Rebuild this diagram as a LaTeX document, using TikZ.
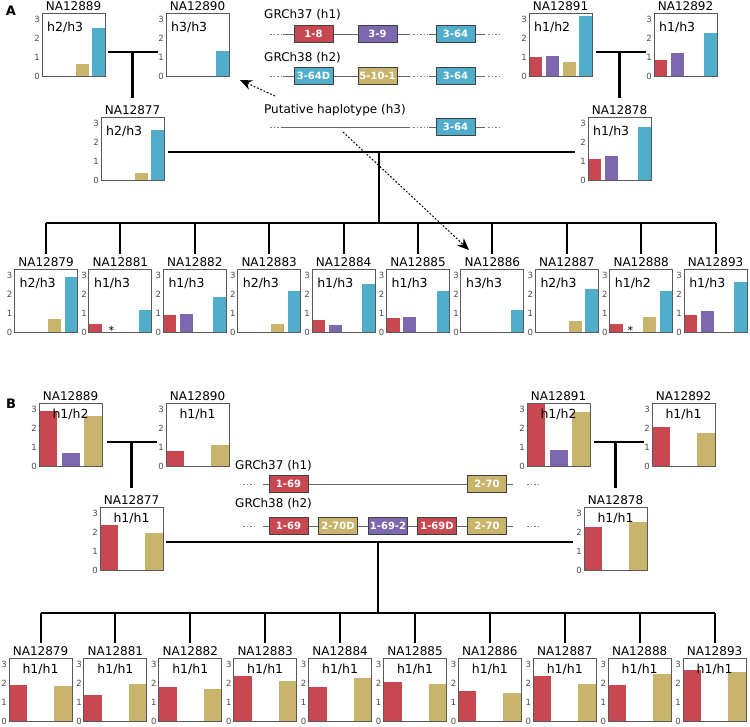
\documentclass[tikz,border=0pt]{standalone}
\usepackage{fontspec}
\setmainfont{DejaVu Sans}
\usetikzlibrary{arrows.meta,calc}
\definecolor{cred}{RGB}{200,72,82}
\definecolor{cpur}{RGB}{124,104,174}
\definecolor{ctan}{RGB}{201,180,108}
\definecolor{cblu}{RGB}{80,174,204}
\tikzset{
 frame/.style={draw=black!65, line width=0.9pt, minimum width=63pt, minimum height=63pt, inner sep=0pt},
 samp/.style={font=\fontsize{12}{14}\selectfont, inner sep=0pt, anchor=base},
 geno/.style={font=\fontsize{12.5}{14}\selectfont, inner sep=0pt},
 tickl/.style={font=\fontsize{8.5}{9}\selectfont, text=black!70, inner sep=0pt, anchor=east},
 gbox/.style={draw=black!75, line width=0.7pt, minimum width=39pt, minimum height=17pt, inner sep=0pt, text=white, font=\bfseries\fontsize{10}{10}\selectfont},
 glab/.style={font=\fontsize{12}{14}\selectfont, inner sep=0pt, anchor=west},
 gline/.style={draw=black!60, line width=0.7pt},
 gdot/.style={draw=black!50, line width=0.7pt, dash pattern=on 1.5pt off 2pt},
 fam/.style={draw=black, line width=2.3pt},
 hint/.style={draw=black, line width=1pt, dash pattern=on 1.8pt off 1.8pt, -{Stealth[length=12pt,width=10pt,inset=4pt]}},
 astk/.style={font=\fontsize{11}{12}\selectfont, inner sep=0pt, anchor=base},
 panel/.style={font=\bfseries\fontsize{13}{14}\selectfont, inner sep=0pt},
}
\newcommand\chA[9]{%
\begin{scope}[shift={(#2,#3)}]
\ifdim #6pt>0pt \fill[cred] (0,63) rectangle (13,63-#6*18.7);\fi
\ifdim #7pt>0pt \fill[cpur] (16.5,63) rectangle (29.5,63-#7*18.7);\fi
\ifdim #8pt>0pt \fill[ctan] (33.5,63) rectangle (46.5,63-#8*18.7);\fi
\ifdim #9pt>0pt \fill[cblu] (50,63) rectangle (63,63-#9*18.7);\fi
\node[frame] (#1) at (31.5,31.5) {};
\node[samp] (#1-s) at (31.5,-2.5) {#4};
\node[geno, anchor=west] (#1-g) at (5,14) {#5};
\foreach \k in {0,1,2,3} {\node[tickl] (#1-t\k) at (-2,63-\k*18.7) {\k};}
\end{scope}}
\newcommand\chB[8]{%
\begin{scope}[shift={(#2,#3)}]
\ifdim #6pt>0pt \fill[cred] (0,63) rectangle (18,63-#6*18.7);\fi
\ifdim #7pt>0pt \fill[cpur] (22.5,63) rectangle (40.5,63-#7*18.7);\fi
\ifdim #8pt>0pt \fill[ctan] (45,63) rectangle (63,63-#8*18.7);\fi
\node[frame] (#1) at (31.5,31.5) {};
\node[samp] (#1-s) at (31.5,-2.5) {#4};
\node[geno] (#1-g) at (31.5,11) {#5};
\foreach \k in {0,1,2,3} {\node[tickl] (#1-t\k) at (-2,63-\k*18.7) {\k};}
\end{scope}}
\begin{document}
\begin{tikzpicture}[x=1pt,y=-1pt]
\useasboundingbox (0,0) rectangle (750,727);
\fill[white] (0,0) rectangle (750,727);
\node[panel] (pA) at (11,11) {A};
\node[panel] (pB) at (11,404) {B};
% ================= Panel A =================
\chA{a89}{42}{13}{NA12889}{h2/h3}{0}{0}{0.63}{2.58}
\chA{a90}{166}{13}{NA12890}{h3/h3}{0}{0}{0}{1.36}
\chA{a91}{529}{13}{NA12891}{h1/h2}{1.03}{1.08}{0.76}{3.19}
\chA{a92}{654}{13}{NA12892}{h1/h3}{0.86}{1.24}{0}{2.32}
\chA{a77}{101}{117}{NA12877}{h2/h3}{0}{0}{0.38}{2.65}
\chA{a78}{588}{117}{NA12878}{h1/h3}{1.14}{1.3}{0}{2.86}
\chA{a79}{14.5}{269}{NA12879}{h2/h3}{0}{0}{0.68}{2.95}
\chA{a81}{88.9}{269}{NA12881}{h1/h3}{0.42}{0}{0}{1.2}
\chA{a82}{163.3}{269}{NA12882}{h1/h3}{0.9}{0.95}{0}{1.85}
\chA{a83}{237.7}{269}{NA12883}{h2/h3}{0}{0}{0.42}{2.2}
\chA{a84}{312.1}{269}{NA12884}{h1/h3}{0.65}{0.4}{0}{2.55}
\chA{a85}{386.5}{269}{NA12885}{h1/h3}{0.75}{0.78}{0}{2.2}
\chA{a86}{460.9}{269}{NA12886}{h3/h3}{0}{0}{0}{1.2}
\chA{a87}{535.3}{269}{NA12887}{h2/h3}{0}{0}{0.6}{2.3}
\chA{a88}{609.7}{269}{NA12888}{h1/h2}{0.45}{0}{0.8}{2.2}
\chA{a93}{684.1}{269}{NA12893}{h1/h3}{0.9}{1.1}{0}{2.7}
\node[astk] (a81-ast) at ($(a81.south west)+(23,2)$) {*};
\node[astk] (a88-ast) at ($(a88.south west)+(21,2)$) {*};
% family lines A
\coordinate (tA1l) at (108,52); \coordinate (tA1r) at (158,52); \coordinate (tA1m) at (132.5,52);
\draw[fam] (tA1l) -- (tA1r);
\draw[fam] (tA1m) -- ([yshift=7pt]tA1m |- a77-s.north);
\coordinate (tA2l) at (596,52); \coordinate (tA2r) at (646,52); \coordinate (tA2m) at (619.5,52);
\draw[fam] (tA2l) -- (tA2r);
\draw[fam] (tA2m) -- ([yshift=7pt]tA2m |- a78-s.north);
\coordinate (pAl) at (168,152); \coordinate (pAr) at (575,152); \coordinate (pAm) at (379,152);
\coordinate (busA) at (379,223);
\draw[fam, line width=1.8pt] (pAl) -- (pAr);
\draw[fam, line width=1.8pt] (pAm) -- (busA);
\draw[fam, line width=2pt] (a79.north |- busA) -- (a93.north |- busA);
\foreach \n in {79,81,82,83,84,85,86,87,88,93} {\draw[fam, line width=2pt] (a\n.north |- busA) -- ([yshift=15pt]a\n.north);}
% gene diagram A
\node[glab] (gA1) at (264,15) {GRCh37 (h1)};
\node[glab] (gA2) at (264,58) {GRCh38 (h2)};
\node[glab] (gA3) at (264,110) {Putative haplotype (h3)};
\coordinate (r1d1) at (270,34); \coordinate (r1s1) at (283,34); \coordinate (r1s2) at (410,34);
\coordinate (r1d2) at (413,34); \coordinate (r1d3) at (428,34); \coordinate (r1s3) at (429,34);
\coordinate (r1s4) at (485,34); \coordinate (r1d4) at (488,34); \coordinate (r1d5) at (499,34);
\draw[gdot] (r1d1) -- (r1s1); \draw[gline] (r1s1) -- (r1s2); \draw[gdot] (r1d2) -- (r1d3);
\draw[gline] (r1s3) -- (r1s4); \draw[gdot] (r1d4) -- (r1d5);
\node[gbox, fill=cred] (a1-18) at (313.5,34) {1-8};
\node[gbox, fill=cpur] (a1-39) at (377.5,34) {3-9};
\node[gbox, fill=cblu] (a1-364) at (455.5,34) {3-64};
\coordinate (r2d1) at (270,76); \coordinate (r2s1) at (283,76); \coordinate (r2s2) at (410,76);
\coordinate (r2d2) at (413,76); \coordinate (r2d3) at (428,76); \coordinate (r2s3) at (429,76);
\coordinate (r2s4) at (485,76); \coordinate (r2d4) at (488,76); \coordinate (r2d5) at (499,76);
\draw[gdot] (r2d1) -- (r2s1); \draw[gline] (r2s1) -- (r2s2); \draw[gdot] (r2d2) -- (r2d3);
\draw[gline] (r2s3) -- (r2s4); \draw[gdot] (r2d4) -- (r2d5);
\node[gbox, fill=cblu] (a2-364d) at (313.5,76) {3-64D};
\node[gbox, fill=ctan] (a2-5101) at (377.5,76) {5-10-1};
\node[gbox, fill=cblu] (a2-364) at (455.5,76) {3-64};
\coordinate (r3d1) at (270,127); \coordinate (r3s1) at (281,127); \coordinate (r3s2) at (410,127);
\coordinate (r3d2) at (413,127); \coordinate (r3d3) at (428,127); \coordinate (r3s3) at (429,127);
\coordinate (r3s4) at (485,127); \coordinate (r3d4) at (488,127); \coordinate (r3d5) at (499,127);
\draw[gdot] (r3d1) -- (r3s1); \draw[gline] (r3s1) -- (r3s2); \draw[gdot] (r3d2) -- (r3d3);
\draw[gline] (r3s3) -- (r3s4); \draw[gdot] (r3d4) -- (r3d5);
\node[gbox, fill=cblu] (a3-364) at (455.5,127) {3-64};
% dotted arrows
\coordinate (ar1s) at (275,96); \coordinate (ar1e) at (240,80);
\coordinate (ar2s) at (343,132); \coordinate (ar2e) at (469,250);
\draw[hint] (ar1s) -- (ar1e);
\draw[hint] (ar2s) -- (ar2e);
% ================= Panel B =================
\chB{b89}{39}{403}{NA12889}{h1/h2}{2.94}{0.72}{2.7}
\chB{b90}{166}{403}{NA12890}{h1/h1}{0.78}{0}{1.1}
\chB{b91}{527}{403}{NA12891}{h1/h2}{3.3}{0.83}{2.9}
\chB{b92}{652}{403}{NA12892}{h1/h1}{2.07}{0}{1.75}
\chB{b77}{100}{507}{NA12877}{h1/h1}{2.4}{0}{1.97}
\chB{b78}{584}{507}{NA12878}{h1/h1}{2.3}{0}{2.57}
\chB{b79}{9}{658}{NA12879}{h1/h1}{1.92}{0}{1.86}
\chB{b81}{83.9}{658}{NA12881}{h1/h1}{1.4}{0}{2.0}
\chB{b82}{158.8}{658}{NA12882}{h1/h1}{1.8}{0}{1.7}
\chB{b83}{233.7}{658}{NA12883}{h1/h1}{2.4}{0}{2.15}
\chB{b84}{308.6}{658}{NA12884}{h1/h1}{1.8}{0}{2.3}
\chB{b85}{383.5}{658}{NA12885}{h1/h1}{2.1}{0}{2.0}
\chB{b86}{458.4}{658}{NA12886}{h1/h1}{1.6}{0}{1.5}
\chB{b87}{533.3}{658}{NA12887}{h1/h1}{2.4}{0}{1.98}
\chB{b88}{608.2}{658}{NA12888}{h1/h1}{1.93}{0}{2.5}
\chB{b93}{683.1}{658}{NA12893}{h1/h1}{2.72}{0}{2.6}
% family lines B
\coordinate (tB1l) at (107,442); \coordinate (tB1r) at (157,442); \coordinate (tB1m) at (131.5,442);
\draw[fam] (tB1l) -- (tB1r);
\draw[fam] (tB1m) -- ([yshift=7pt]tB1m |- b77-s.north);
\coordinate (tB2l) at (594,442); \coordinate (tB2r) at (644,442); \coordinate (tB2m) at (615.5,442);
\draw[fam] (tB2l) -- (tB2r);
\draw[fam] (tB2m) -- ([yshift=7pt]tB2m |- b78-s.north);
\coordinate (pBl) at (166,542); \coordinate (pBr) at (573,542); \coordinate (pBm) at (378,542);
\coordinate (busB) at (378,613);
\draw[fam, line width=1.8pt] (pBl) -- (pBr);
\draw[fam, line width=1.8pt] (pBm) -- (busB);
\draw[fam, line width=2pt] (b79.north |- busB) -- (b93.north |- busB);
\foreach \n in {79,81,82,83,84,85,86,87,88,93} {\draw[fam, line width=2pt] (b\n.north |- busB) -- ([yshift=15pt]b\n.north);}
% gene diagram B
\node[glab] (gB1) at (235,466) {GRCh37 (h1)};
\node[glab] (gB2) at (235,504) {GRCh38 (h2)};
\coordinate (q1d1) at (243,484); \coordinate (q1d2) at (255,484); \coordinate (q1s1) at (263,484);
\coordinate (q1s2) at (513,484); \coordinate (q1d3) at (527,484); \coordinate (q1d4) at (540,484);
\draw[gdot] (q1d1) -- (q1d2); \draw[gline] (q1s1) -- (q1s2); \draw[gdot] (q1d3) -- (q1d4);
\node[gbox, fill=cred] (b1-169) at (288.5,484) {1-69};
\node[gbox, fill=ctan] (b1-270) at (487,484) {2-70};
\coordinate (q2d1) at (243,526); \coordinate (q2d2) at (255,526); \coordinate (q2s1) at (263,526);
\coordinate (q2s2) at (513,526); \coordinate (q2d3) at (527,526); \coordinate (q2d4) at (540,526);
\draw[gdot] (q2d1) -- (q2d2); \draw[gline] (q2s1) -- (q2s2); \draw[gdot] (q2d3) -- (q2d4);
\node[gbox, fill=cred] (b2-169) at (288.5,526) {1-69};
\node[gbox, fill=ctan] (b2-270d) at (338,526) {2-70D};
\node[gbox, fill=cpur] (b2-1692) at (388,526) {1-69-2};
\node[gbox, fill=cred] (b2-169d) at (437,526) {1-69D};
\node[gbox, fill=ctan] (b2-270) at (487,526) {2-70};
\end{tikzpicture}
\end{document}
